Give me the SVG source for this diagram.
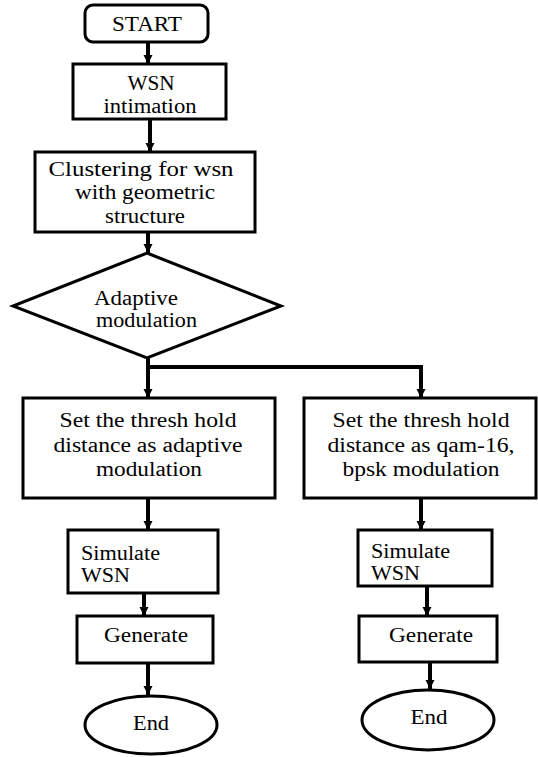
<svg xmlns="http://www.w3.org/2000/svg" width="538" height="757" viewBox="0 0 538 757" font-family="Liberation Serif, Times New Roman, serif" font-size="20">
<style>
.box{fill:#fff;stroke:#000;stroke-width:3}
.c{text-anchor:middle}
.ln{fill:none;stroke:#000;stroke-width:4}
</style>
<defs>
<marker id="ah" markerUnits="userSpaceOnUse" markerWidth="10" markerHeight="10" refX="9" refY="5" orient="auto" viewBox="0 0 10 10">
<path d="M0,0.5 L9,5 L0,9.5 z" fill="#000"/>
</marker>
</defs>
<rect width="538" height="757" fill="#fff"/>
<g id="connectors">
<line class="ln" x1="148" y1="42" x2="148" y2="64" marker-end="url(#ah)"/>
<line class="ln" x1="150" y1="119" x2="150" y2="152" marker-end="url(#ah)"/>
<line class="ln" x1="148" y1="232" x2="148" y2="253" marker-end="url(#ah)"/>
<polyline class="ln" points="148,358 148,367 421,367"/>
<line class="ln" x1="148" y1="367" x2="148" y2="398" marker-end="url(#ah)"/>
<line class="ln" x1="421" y1="365" x2="421" y2="398" marker-end="url(#ah)"/>
<line class="ln" x1="148" y1="498" x2="148" y2="530" marker-end="url(#ah)"/>
<line class="ln" x1="421" y1="498" x2="421" y2="530" marker-end="url(#ah)"/>
<line class="ln" x1="144" y1="593" x2="144" y2="616" marker-end="url(#ah)"/>
<line class="ln" x1="427" y1="586" x2="427" y2="616" marker-end="url(#ah)"/>
<line class="ln" x1="148" y1="663" x2="148" y2="695" marker-end="url(#ah)"/>
<line class="ln" x1="430" y1="662" x2="430" y2="689" marker-end="url(#ah)"/>
</g>
<g id="start">
<rect class="box" x="85" y="5" width="123" height="37" rx="8"/>
<text class="c" x="147" y="31" textLength="70" lengthAdjust="spacingAndGlyphs">START</text>
</g>
<g id="wsn-init">
<rect class="box" x="73" y="64" width="153" height="55"/>
<text class="c" x="151" y="90" textLength="47" lengthAdjust="spacingAndGlyphs">WSN</text>
<text class="c" x="150" y="113" textLength="93" lengthAdjust="spacingAndGlyphs">intimation</text>
</g>
<g id="clustering">
<rect class="box" x="35" y="152" width="220" height="80"/>
<text class="c" x="141" y="176" textLength="185" lengthAdjust="spacingAndGlyphs">Clustering for wsn</text>
<text class="c" x="145" y="199" textLength="140" lengthAdjust="spacingAndGlyphs">with geometric</text>
<text class="c" x="145" y="223" textLength="80" lengthAdjust="spacingAndGlyphs">structure</text>
</g>
<g id="decision">
<polygon class="box" points="147,253 281,306 147,358 13,306"/>
<text x="94" y="305" textLength="84" lengthAdjust="spacingAndGlyphs">Adaptive</text>
<text x="96" y="327" textLength="101" lengthAdjust="spacingAndGlyphs">modulation</text>
</g>
<g id="threshold-adaptive">
<rect class="box" x="23" y="398" width="252" height="100"/>
<text class="c" x="148" y="427" textLength="177" lengthAdjust="spacingAndGlyphs">Set the thresh hold</text>
<text class="c" x="148" y="452" textLength="189" lengthAdjust="spacingAndGlyphs">distance as adaptive</text>
<text class="c" x="149" y="476" textLength="106" lengthAdjust="spacingAndGlyphs">modulation</text>
</g>
<g id="threshold-qam">
<rect class="box" x="304" y="398" width="232" height="100"/>
<text class="c" x="421" y="427" textLength="177" lengthAdjust="spacingAndGlyphs">Set the thresh hold</text>
<text class="c" x="421" y="452" textLength="187" lengthAdjust="spacingAndGlyphs">distance as qam-16,</text>
<text class="c" x="421" y="476" textLength="157" lengthAdjust="spacingAndGlyphs">bpsk modulation</text>
</g>
<g id="simulate-left">
<rect class="box" x="68" y="530" width="150" height="63"/>
<text x="81" y="560" textLength="79" lengthAdjust="spacingAndGlyphs">Simulate</text>
<text x="81" y="582" textLength="49" lengthAdjust="spacingAndGlyphs">WSN</text>
</g>
<g id="simulate-right">
<rect class="box" x="358" y="530" width="134" height="56"/>
<text x="371" y="558" textLength="79" lengthAdjust="spacingAndGlyphs">Simulate</text>
<text x="371" y="580" textLength="49" lengthAdjust="spacingAndGlyphs">WSN</text>
</g>
<g id="generate-left">
<rect class="box" x="77" y="616" width="136" height="47"/>
<text class="c" x="146" y="642" textLength="84" lengthAdjust="spacingAndGlyphs">Generate</text>
</g>
<g id="generate-right">
<rect class="box" x="359" y="616" width="138" height="46"/>
<text class="c" x="431" y="642" textLength="84" lengthAdjust="spacingAndGlyphs">Generate</text>
</g>
<g id="end-left">
<ellipse class="box" cx="151" cy="725" rx="66" ry="29"/>
<text class="c" x="151" y="730" textLength="36" lengthAdjust="spacingAndGlyphs">End</text>
</g>
<g id="end-right">
<ellipse class="box" cx="428" cy="720" rx="66" ry="30"/>
<text class="c" x="429" y="724" textLength="37" lengthAdjust="spacingAndGlyphs">End</text>
</g>
</svg>
